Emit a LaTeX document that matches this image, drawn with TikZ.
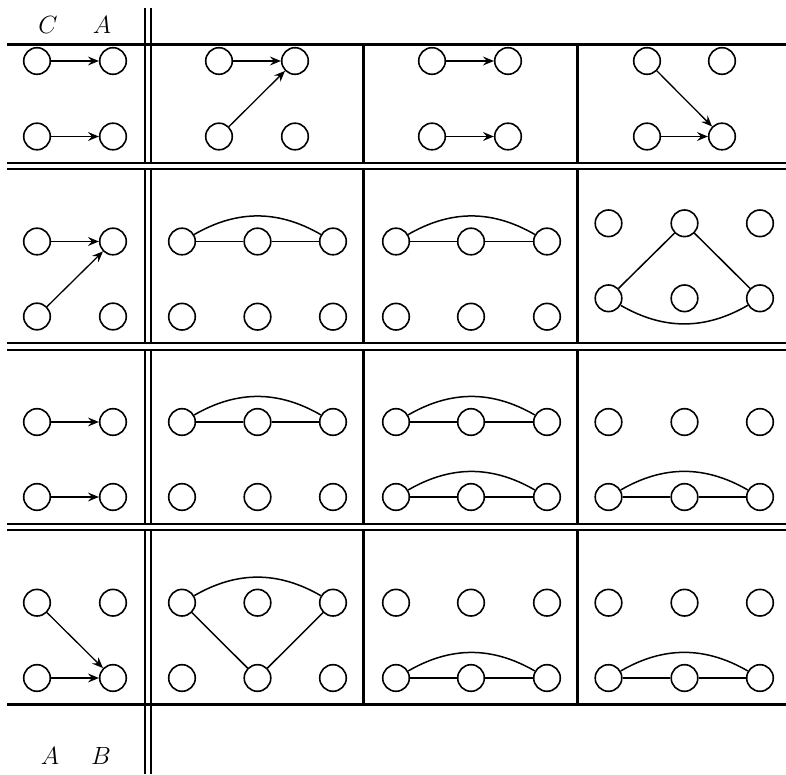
\documentclass[tikz,border=0pt]{standalone}
\usetikzlibrary{arrows.meta}
\begin{document}
\begin{tikzpicture}[x=1pt,y=1pt,
  v/.style={circle,draw,line width=1.6pt,minimum size=26.6pt,inner sep=0pt},
  arr/.style={line width=1.3pt,-{Stealth[length=11pt,width=9pt,inset=4pt]}},
  edg/.style={line width=1.5pt},
  rul/.style={line width=2.3pt},
  lab/.style={font=\fontsize{24.88}{30}\selectfont,inner sep=0pt}]
\useasboundingbox (0,0) rectangle (786,774);

% ---------- table rules ----------
\foreach \yy in {729.5,611,605,430.7,424.3,250,244,69.5}
  \draw[rul] (7,\yy) -- (786,\yy);
\foreach \ya/\yb in {766/729.5, 729.5/611, 605/430.7, 424.3/250, 244/69.5, 69.5/0} {
  \draw[rul] (145,\ya) -- (145,\yb);
  \draw[rul] (150.7,\ya) -- (150.7,\yb);
}
\foreach \ya/\yb in {729.5/611, 605/430.7, 424.3/250, 244/69.5} {
  \draw[rul] (363.5,\ya) -- (363.5,\yb);
  \draw[rul] (577.5,\ya) -- (577.5,\yb);
}

% ---------- labels ----------
\node[lab] (lc) at (48,748.5) {$C$};
\node[lab] (la) at (102,748.5) {$A$};
\node[lab] (lA) at (50,18) {$A$};
\node[lab] (lB) at (101,18) {$B$};

% ---------- 2x2 cells, first row ----------
\foreach \c/\xa/\xb in {1/37/113, 2/219/295, 3/432/508, 4/647/722} {
  \node[v] (r1c\c tl) at (\xa,713) {};
  \node[v] (r1c\c tr) at (\xb,713) {};
  \node[v] (r1c\c bl) at (\xa,637.5) {};
  \node[v] (r1c\c br) at (\xb,637.5) {};
}
\draw[arr] (r1c1tl) -- (r1c1tr);
\draw[arr] (r1c1bl) -- (r1c1br);
\draw[arr] (r1c2tl) -- (r1c2tr);
\draw[arr] (r1c2bl) -- (r1c2tr);
\draw[arr] (r1c3tl) -- (r1c3tr);
\draw[arr] (r1c3bl) -- (r1c3br);
\draw[arr] (r1c4tl) -- (r1c4br);
\draw[arr] (r1c4bl) -- (r1c4br);

% ---------- 2x2 cells, first column ----------
\foreach \r/\ya/\yb in {2/532.5/457.5, 3/352/277, 4/171.3/96} {
  \node[v] (r\r c1tl) at (37,\ya) {};
  \node[v] (r\r c1tr) at (113,\ya) {};
  \node[v] (r\r c1bl) at (37,\yb) {};
  \node[v] (r\r c1br) at (113,\yb) {};
}
\draw[arr] (r2c1tl) -- (r2c1tr);
\draw[arr] (r2c1bl) -- (r2c1tr);
\draw[arr] (r3c1tl) -- (r3c1tr);
\draw[arr] (r3c1bl) -- (r3c1br);
\draw[arr] (r4c1tl) -- (r4c1br);
\draw[arr] (r4c1bl) -- (r4c1br);

% ---------- 2x3 cells ----------
\foreach \r/\c/\ya/\yb/\xa/\xb/\xc in {
  2/2/532.5/457.3/182/257.5/333,
  2/3/532.5/457.3/396/471/547,
  2/4/550.7/475.7/608.5/684.5/760,
  3/2/352/277/182/257.5/333,
  3/3/352/277/396/471/547,
  3/4/352/277/608.5/684.5/760,
  4/2/171.3/96/182/257.5/333,
  4/3/171.3/96/396/471/547,
  4/4/171.3/96/608.5/684.5/760} {
  \node[v] (r\r c\c t1) at (\xa,\ya) {};
  \node[v] (r\r c\c t2) at (\xb,\ya) {};
  \node[v] (r\r c\c t3) at (\xc,\ya) {};
  \node[v] (r\r c\c b1) at (\xa,\yb) {};
  \node[v] (r\r c\c b2) at (\xb,\yb) {};
  \node[v] (r\r c\c b3) at (\xc,\yb) {};
}
% row 2
\draw[edg] (r2c2t1) -- (r2c2t2) (r2c2t2) -- (r2c2t3);
\draw[edg] (r2c2t1) to[bend left=30] (r2c2t3);
\draw[edg] (r2c3t1) -- (r2c3t2) (r2c3t2) -- (r2c3t3);
\draw[edg] (r2c3t1) to[bend left=30] (r2c3t3);
\draw[edg] (r2c4t2) -- (r2c4b1) (r2c4t2) -- (r2c4b3);
\draw[edg] (r2c4b1) to[bend right=30] (r2c4b3);
% row 3
\draw[edg] (r3c2t1) -- (r3c2t2) (r3c2t2) -- (r3c2t3);
\draw[edg] (r3c2t1) to[bend left=30] (r3c2t3);
\draw[edg] (r3c3t1) -- (r3c3t2) (r3c3t2) -- (r3c3t3);
\draw[edg] (r3c3t1) to[bend left=30] (r3c3t3);
\draw[edg] (r3c3b1) -- (r3c3b2) (r3c3b2) -- (r3c3b3);
\draw[edg] (r3c3b1) to[bend left=30] (r3c3b3);
\draw[edg] (r3c4b1) -- (r3c4b2) (r3c4b2) -- (r3c4b3);
\draw[edg] (r3c4b1) to[bend left=30] (r3c4b3);
% row 4
\draw[edg] (r4c2t1) to[bend left=30] (r4c2t3);
\draw[edg] (r4c2t1) -- (r4c2b2) (r4c2t3) -- (r4c2b2);
\draw[edg] (r4c3b1) -- (r4c3b2) (r4c3b2) -- (r4c3b3);
\draw[edg] (r4c3b1) to[bend left=30] (r4c3b3);
\draw[edg] (r4c4b1) -- (r4c4b2) (r4c4b2) -- (r4c4b3);
\draw[edg] (r4c4b1) to[bend left=30] (r4c4b3);
\end{tikzpicture}
\end{document}
